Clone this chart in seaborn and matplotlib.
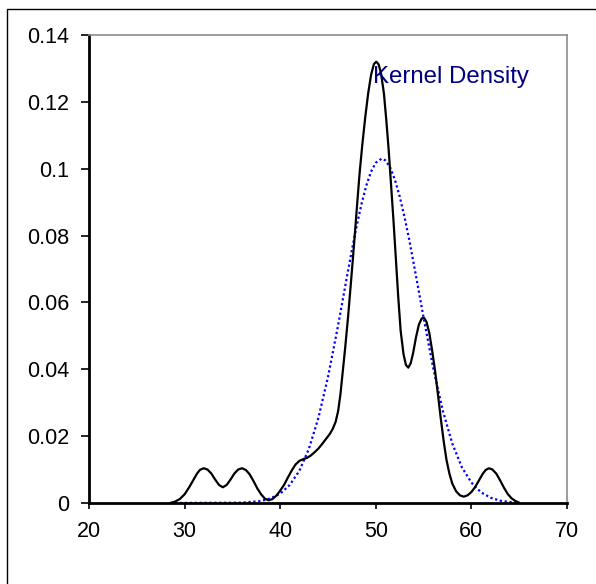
import matplotlib
matplotlib.use("Agg")
import matplotlib.pyplot as plt
import matplotlib.patches as patches
import seaborn as sns
import pandas as pd

# kernel density curve (black)
kde_x = [28.5, 29.0, 29.5, 30.0, 30.5, 30.9, 31.3, 31.6, 32.0, 32.4, 32.8, 33.2,
         33.6, 34.0, 34.4, 34.8, 35.2, 35.6, 36.0, 36.4, 36.8, 37.2, 37.6, 38.0,
         38.4, 38.8, 39.2, 39.6, 40.0, 40.4, 40.8, 41.2, 41.6, 42.0, 42.4, 42.8,
         43.2, 43.6, 44.0, 44.4, 44.8, 45.2, 45.5, 45.8, 46.06, 46.3, 46.55, 46.8,
         47.1, 47.4, 47.7, 48.0, 48.3, 48.6, 48.9, 49.2, 49.5, 49.8, 50.05, 50.3,
         50.55, 50.85, 51.1, 51.35, 51.6, 51.85, 52.1, 52.35, 52.6, 52.9, 53.15,
         53.4, 53.65, 53.9, 54.2, 54.5, 54.8, 55.05, 55.3, 55.6, 55.9, 56.2, 56.5,
         56.8, 57.1, 57.4, 57.7, 58.0, 58.4, 58.8, 59.2, 59.6, 60.0, 60.4, 60.8,
         61.2, 61.5, 61.85, 62.2, 62.6, 63.0, 63.4, 63.8, 64.2, 64.6, 65.0]
kde_y = [0.0, 0.0004, 0.0012, 0.0026, 0.0048, 0.0068, 0.0088, 0.0099, 0.0104,
         0.0100, 0.0088, 0.0070, 0.0054, 0.0047, 0.0054, 0.0070, 0.0088, 0.0100,
         0.0104, 0.0099, 0.0086, 0.0066, 0.0044, 0.0026, 0.0013, 0.0008, 0.0012,
         0.0022, 0.0037, 0.0054, 0.0076, 0.0097, 0.0115, 0.0126, 0.0131, 0.0135,
         0.0142, 0.0152, 0.0163, 0.0177, 0.0192, 0.0207, 0.0222, 0.0243, 0.0275,
         0.0325, 0.0395, 0.0465, 0.0557, 0.066, 0.0765, 0.0876, 0.0985, 0.1075,
         0.1155, 0.1225, 0.128, 0.1313, 0.132, 0.1312, 0.1285, 0.1225, 0.1145,
         0.1055, 0.095, 0.0845, 0.073, 0.0615, 0.0515, 0.0445, 0.0413, 0.0405,
         0.0418, 0.0448, 0.0495, 0.0533, 0.0552, 0.0554, 0.0542, 0.0508, 0.0455,
         0.0395, 0.0325, 0.0252, 0.0185, 0.0128, 0.0088, 0.0058, 0.0035, 0.0023,
         0.0019, 0.0023, 0.0033, 0.0048, 0.0068, 0.0088, 0.0099, 0.0104, 0.0100,
         0.0088, 0.0068, 0.0046, 0.0027, 0.0014, 0.0006, 0.0001]

# normal curve (blue dotted)
norm_x = [28.5, 36, 38, 39, 40, 41, 42, 43, 44, 45, 46, 46.5, 47, 47.5, 48, 48.5,
          49, 49.5, 50, 50.6, 51, 51.5, 52, 52.5, 53, 53.5, 54, 54.5, 55, 56, 57,
          58, 59, 60, 61, 62, 63, 64, 65]
norm_y = [0.0, 0.0001, 0.0006, 0.0014, 0.0028, 0.0054, 0.0096, 0.0162, 0.0255,
          0.0377, 0.0523, 0.0601, 0.068, 0.0757, 0.0829, 0.0894, 0.0949, 0.0991,
          0.1018, 0.103, 0.1025, 0.1004, 0.0967, 0.0917, 0.0856, 0.0787, 0.0711,
          0.0633, 0.0554, 0.0405, 0.0277, 0.0178, 0.0107, 0.0061, 0.0032, 0.0016,
          0.0007, 0.0003, 0.0001]

x_ticks = [20, 30, 40, 50, 60, 70]
y_ticks = [0, 0.02, 0.04, 0.06, 0.08, 0.1, 0.12, 0.14]
y_labels = ["0", "0.02", "0.04", "0.06", "0.08", "0.1", "0.12", "0.14"]

kde = pd.DataFrame({"x": kde_x, "y": kde_y})
nrm = pd.DataFrame({"x": norm_x, "y": norm_y})

sns.set_style("white")
plt.rcParams["font.family"] = ["Liberation Sans", "DejaVu Sans"]

fig = plt.figure(figsize=(5.96, 5.84), dpi=100)
ax = fig.add_axes([89 / 596, 81 / 584, 478 / 596, 468 / 584])

sns.lineplot(data=nrm, x="x", y="y", ax=ax, color="#0000ff", linewidth=1.6,
             linestyle=(0, (1, 1.2)), sort=False, estimator=None)
sns.lineplot(data=kde, x="x", y="y", ax=ax, color="black", linewidth=1.6,
             sort=False, estimator=None)

ax.set_xlim(20, 70)
ax.set_ylim(0, 0.14)
ax.set_xticks(x_ticks)
ax.set_yticks(y_ticks)
ax.set_yticklabels(y_labels)
ax.set_xlabel("")
ax.set_ylabel("")

for s in ["left", "bottom"]:
    ax.spines[s].set_color("black")
    ax.spines[s].set_linewidth(2.0)
for s in ["top", "right"]:
    ax.spines[s].set_color("#8c8c8c")
    ax.spines[s].set_linewidth(1.2)

ax.tick_params(axis="y", direction="out", length=6, width=1.2, pad=8,
               labelsize=15.5, left=True, colors="black")
ax.tick_params(axis="x", direction="out", length=4, width=1.2, pad=9,
               labelsize=15.5, bottom=True, colors="black")

ax.text(49.68, 0.1255, "Kernel Density", color="#000080", fontsize=17.3,
        ha="left", va="baseline")

# outer chart border (only top and left edges show in the reference)
border = patches.Rectangle((7 / 596, -0.2), 1.3, 0.2 + (584 - 9) / 584,
                           transform=fig.transFigure, fill=False,
                           edgecolor="black", linewidth=1.0)
fig.patches.append(border)

fig.savefig("out.png", dpi=100)
